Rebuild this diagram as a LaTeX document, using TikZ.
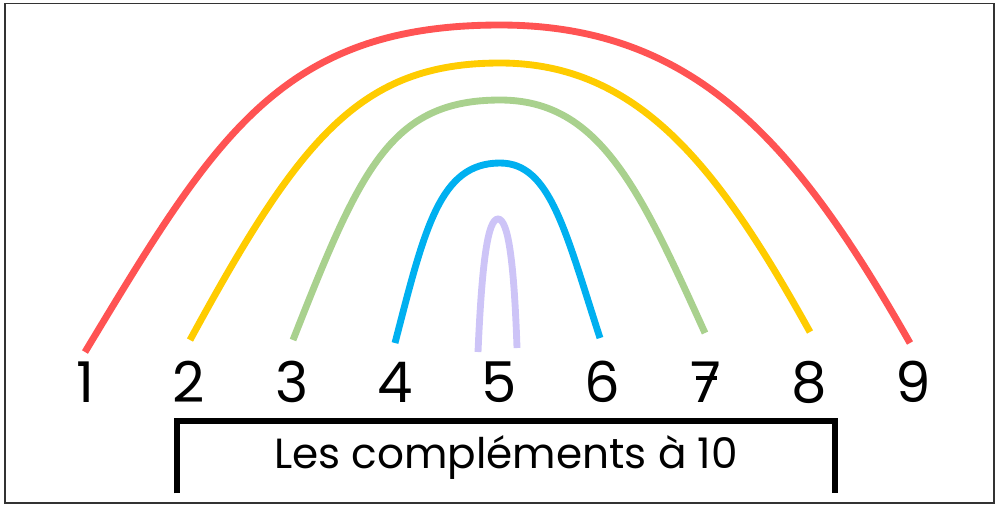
\documentclass[tikz,border=0pt]{standalone}
\usepackage{fontspec}
\setmainfont{Poppins}
\usetikzlibrary{positioning}

\definecolor{bandred}{HTML}{FF5353}
\definecolor{bandyellow}{HTML}{FFCC00}
\definecolor{bandgreen}{HTML}{A9D18E}
\definecolor{bandblue}{HTML}{00B0F0}
\definecolor{bandlilac}{HTML}{CDC4F7}

% seven with a bar
\newcommand{\barseven}{\makebox[0pt][l]{\hspace{0.1em}\rule[0.4em]{0.36em}{0.07em}}7}

\begin{document}
\begin{tikzpicture}[x=0.02cm, y=-0.02cm,
    digit/.style={anchor=base, inner sep=0pt, font=\fontsize{32}{36}\selectfont},
    band/.style={line width=3.9pt},
    titlebox/.style={minimum width=13.16cm, minimum height=1.44cm, inner sep=0pt,
                     font=\fontsize{24}{28}\selectfont},
]
\useasboundingbox (0,0) rectangle (1000,505);
\draw[line width=0.8pt, black!80] (5,3.5) rectangle (994,503);

% the numbers
\foreach \lbl [count=\i] in {1,2,3,4,5,6,\barseven,8,9}
  \node[digit] (n\i) at ({85+103.5*(\i-1)},402) {\lbl};

% the bands
\draw[band, bandred] (85,352) .. controls (214,138) and (280,25) .. (500,25)
                            .. controls (700,25) and (800,150) .. (910,343);
\draw[band, bandyellow] (190,340) .. controls (300,138) and (360,63) .. (500,63)
                               .. controls (640,63) and (720,170) .. (810,332);
\draw[band, bandgreen] (293,340) .. controls (360,170) and (390,100) .. (500,100)
                              .. controls (600,100) and (640,190) .. (705,333);
\draw[band, bandblue] (395,343) .. controls (425,227) and (440,163) .. (500,163)
                             .. controls (550,163) and (565,230) .. (600,338);
\draw[band, bandlilac] (478,352) .. controls (482,260) and (488,219) .. (498,219)
                              .. controls (508,219) and (514,260) .. (517,348);

% bracket
\node[titlebox] (title) at (506,457) {Les compléments à 10};
\draw[line width=3.4pt] (title.south west) |- (title.north east) -- (title.south east);
\end{tikzpicture}
\end{document}
